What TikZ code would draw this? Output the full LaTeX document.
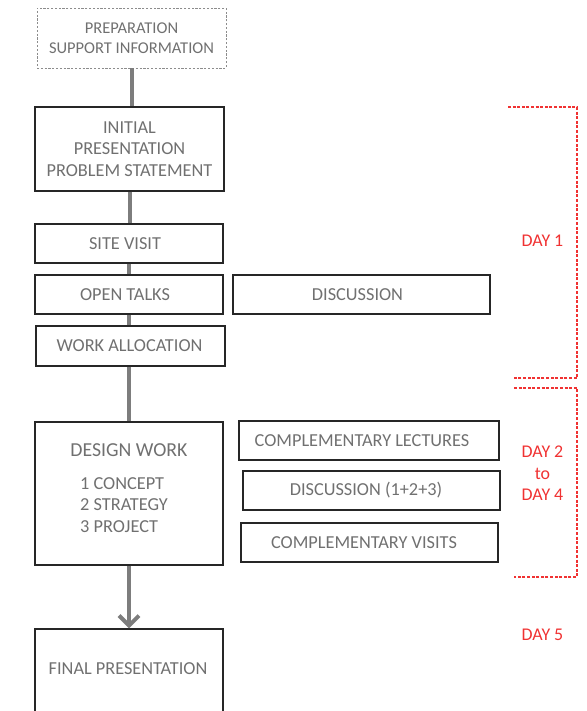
\documentclass[tikz,border=0pt]{standalone}
\usepackage{fontspec}
\setmainfont{Carlito}
\usetikzlibrary{arrows.meta}
\definecolor{txt}{RGB}{112,112,112}
\definecolor{conn}{RGB}{125,125,125}
\definecolor{dayred}{RGB}{240,50,50}
\begin{document}
\begin{tikzpicture}[x=1pt,y=-1pt,
  box/.style={draw=black!85, line width=1.2pt, inner sep=0pt, text=txt,
    font=\fontsize{18.3}{21.5}\selectfont},
  prepbox/.style={draw=black!45, line width=0.8pt, dash pattern=on 2.2pt off 1.6pt,
    inner sep=0pt, text=txt, font=\fontsize{16.5}{19.5}\selectfont, align=center},
  plain/.style={inner sep=0pt, text=txt, font=\fontsize{18.3}{21.5}\selectfont},
  daylabel/.style={inner sep=0pt, text=dayred, font=\fontsize{17.9}{21.5}\selectfont, align=center},
  connector/.style={draw=conn, line width=4pt},
  bracket/.style={draw=dayred, line width=1.1pt, dash pattern=on 3pt off 1.6pt}
]
\useasboundingbox (0,0) rectangle (586,711);

% left column
\node[prepbox, minimum width=189pt, minimum height=60pt] (prep) at (131.5,38)
  {PREPARATION\\SUPPORT INFORMATION};
\node[box, align=center, minimum width=189pt, minimum height=84pt] (init) at (129.5,149)
  {INITIAL\\PRESENTATION\\PROBLEM STATEMENT};
\node[box, minimum width=188pt, minimum height=39pt] (site) at (129,243.5)
  {SITE VISIT\hspace*{8pt}};
\node[box, minimum width=188pt, minimum height=39pt] (open) at (129,294.5)
  {OPEN TALKS\hspace*{8pt}};
\node[box, minimum width=189pt, minimum height=40pt] (work) at (130.5,346)
  {WORK ALLOCATION\hspace*{2pt}};
\node[box, minimum width=188pt, minimum height=143pt] (design) at (129,493.5) {};
\node[plain, font=\fontsize{19.8}{23}\selectfont] (dtitle) at (129,450) {DESIGN WORK};
\node[plain, align=left, anchor=west] (ditems) at (80,505)
  {1 CONCEPT\\2 STRATEGY\\3 PROJECT};
\node[box, minimum width=188pt, minimum height=100pt] (final) at (129,679) {};
\node[plain] (ftext) at (128,669) {FINAL PRESENTATION};

% right column
\node[box, minimum width=257pt, minimum height=39pt] (disc) at (361.5,294.5)
  {DISCUSSION\hspace*{8pt}};
\node[box, minimum width=260pt, minimum height=39pt] (lect) at (369,440.5)
  {COMPLEMENTARY LECTURES\hspace*{14pt}};
\node[box, minimum width=257pt, minimum height=39pt] (disc2) at (371.5,490.5)
  {DISCUSSION (1+2+3)\hspace*{11pt}};
\node[box, minimum width=257pt, minimum height=39pt] (visits) at (369.5,542.5)
  {COMPLEMENTARY VISITS\hspace*{11pt}};

% connectors
\draw[connector] (prep.south) -- (prep.south |- init.north);
\draw[connector] (init.south) -- (init.south |- site.north);
\draw[connector] (site.south) -- (site.south |- open.north);
\draw[connector] (open.south) -- (open.south |- work.north);
\draw[connector] (work.south -| open.south) -- (open.south |- design.north);
\draw[connector, -{Straight Barb[length=10pt,width=20pt]}] (design.south) -- (design.south |- final.north);

% day brackets
\draw[bracket] (508,107) -- (577,107) -- (577,378) -- (513,378);
\draw[bracket] (514,388) -- (577,388) -- (577,577) -- (514,577);
\node[daylabel] (day1) at (542.5,241) {DAY 1};
\node[daylabel] (day24) at (542.5,473.5) {DAY 2\\to\\DAY 4};
\node[daylabel] (day5) at (542.5,635) {DAY 5};
\end{tikzpicture}
\end{document}
